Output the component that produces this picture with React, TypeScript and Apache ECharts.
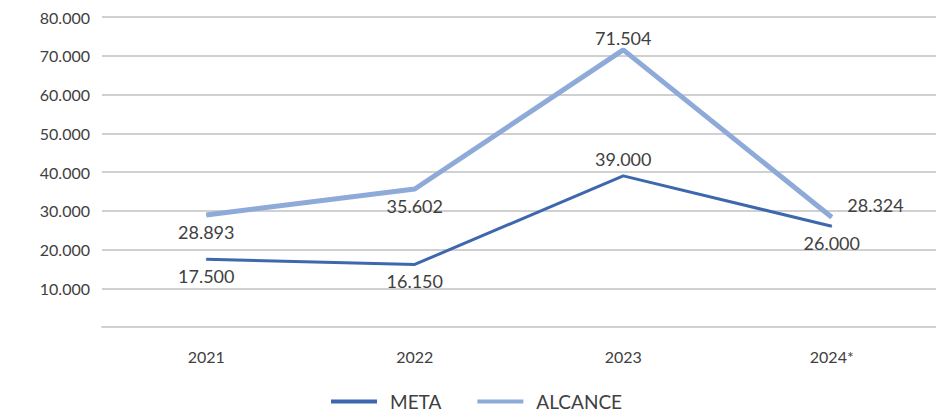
import React, { useEffect, useRef } from "react";
import * as echarts from "echarts";

const categories = ["2021", "2022", "2023", "2024*"];
const metaValues = [17500, 16150, 39000, 26000];
const alcanceValues = [28893, 35602, 71504, 28324];
const yTicks = { min: 0, max: 80000, interval: 10000 };

const fmt = (v: number) => String(Math.round(v)).replace(/\B(?=(\d{3})+(?!\d))/g, ".");

const FONT = "Lato, 'Noto Sans', sans-serif";

export default function App() {
  const ref = useRef<HTMLDivElement>(null);
  useEffect(() => {
    if (!ref.current) return;
    const chart = echarts.init(ref.current, null, { renderer: "svg" });
    const metaPos = ["bottom", "bottom", "top", "bottom"];
    const alcPos = ["bottom", "bottom", "top", "right"];
    const labelBase = {
      show: true,
      fontSize: 18,
      color: "#404040",
      distance: 7,
      fontFamily: FONT,
      formatter: (p: any) => fmt(p.value),
    };
    chart.setOption({
      animation: false,
      textStyle: { fontFamily: FONT },
      grid: { left: 102, right: 0, top: 17, bottom: 89 },
      legend: {
        bottom: 0,
        left: 326,
        itemWidth: 46,
        itemHeight: 4,
        itemGap: 36,
        icon: "rect",
        textStyle: { fontSize: 19, color: "#404040", fontFamily: FONT, padding: [0, 0, 0, 8] },
        data: ["META", "ALCANCE"],
      },
      xAxis: {
        type: "category",
        data: categories,
        boundaryGap: true,
        axisLine: { show: true, lineStyle: { color: "#d0d0d0", width: 2 } },
        axisTick: { show: false },
        axisLabel: { fontSize: 16, color: "#404040", margin: 21 },
      },
      yAxis: {
        type: "value",
        min: yTicks.min,
        max: yTicks.max,
        interval: yTicks.interval,
        axisLine: { show: false },
        axisTick: { show: false },
        splitLine: { lineStyle: { color: "#d0d0d0", width: 2 } },
        axisLabel: {
          fontSize: 16,
          color: "#404040",
          margin: 12,
          formatter: (v: number) => (v === 0 ? "" : fmt(v)),
        },
      },
      series: [
        {
          name: "META",
          type: "line",
          data: metaValues.map((v, i) => ({
            value: v,
            label: { position: metaPos[i] },
          })),
          symbol: "circle",
          symbolSize: 1,
          showSymbol: true,
          lineStyle: { color: "#3d68ad", width: 3 },
          itemStyle: { color: "#3d68ad" },
          label: labelBase,
          z: 3,
        },
        {
          name: "ALCANCE",
          type: "line",
          data: alcanceValues.map((v, i) => ({
            value: v,
            label: {
              position: alcPos[i],
              ...(i === 2 ? { distance: 2 } : {}),
              ...(i === 3 ? { offset: [8, -12] } : {}),
            },
          })),
          symbol: "circle",
          symbolSize: 1,
          showSymbol: true,
          lineStyle: { color: "#8eaad9", width: 5 },
          itemStyle: { color: "#8eaad9" },
          label: labelBase,
          z: 2,
        },
      ],
    });
    return () => chart.dispose();
  }, []);
  return <div ref={ref} style={{ width: 936, height: 416, position: "absolute", left: 0, top: 0 }} />;
}
